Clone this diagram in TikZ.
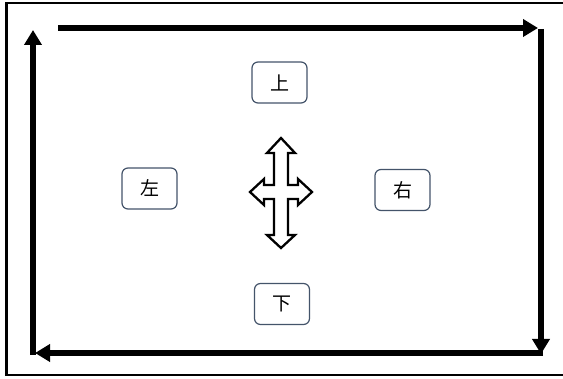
\documentclass[tikz,border=0pt]{standalone}
\usepackage{fontspec}
\newfontfamily\cjk{Noto Sans CJK SC}
\usetikzlibrary{arrows.meta}
\definecolor{keyframe}{HTML}{44546A}
\tikzset{
  keybox/.style={draw=keyframe, line width=1.2pt, rounded corners=6pt, fill=white,
    minimum width=55pt, minimum height=41pt, inner sep=0pt,
    font=\cjk\fontsize{19}{19}\selectfont},
  loop/.style={line width=5.5pt, -{Triangle[length=15pt,width=17pt]}},
  cross/.style={draw=black, line width=2.3pt, fill=white, line join=miter},
}
\begin{document}
\begin{tikzpicture}[x=1pt,y=-1pt]
\useasboundingbox (0,0) rectangle (563,379);
\fill[white] (0,0) rectangle (563,379);
% outer frame
\draw[line width=2.5pt] (6.5,3) rectangle (570,375);

% corners of the loop
\coordinate (tl) at (58,28);
\coordinate (tr) at (538,28);
\coordinate (rt) at (541,29);
\coordinate (rb) at (541,354);
\coordinate (br) at (543,353);
\coordinate (bl) at (35,353);
\coordinate (lb) at (33,355);
\coordinate (lt) at (33,30);

\draw[loop] (tl) -- (tr);
\draw[loop] (rt) -- (rb);
\draw[loop] (br) -- (bl);
\draw[loop] (lb) -- (lt);

% direction keys
\node[keybox] (up) at (279.5,82.5) {上};
\node[keybox] (left) at (149.5,188.5) {左};
\node[keybox] (right) at (402.5,190) {右};
\node[keybox] (down) at (282,304) {下};

% four-way arrow
\draw[cross] (281,138) -- (295,153) -- (288,153) -- (288,185) -- (298,185) -- (298,179)
  -- (312,192) -- (298,205) -- (298,199) -- (288,199) -- (288,235) -- (295,235)
  -- (281,248) -- (267,235) -- (274,235) -- (274,199) -- (264,199) -- (264,205)
  -- (250,192) -- (264,179) -- (264,185) -- (274,185) -- (274,153) -- (267,153) -- cycle;
\end{tikzpicture}
\end{document}
